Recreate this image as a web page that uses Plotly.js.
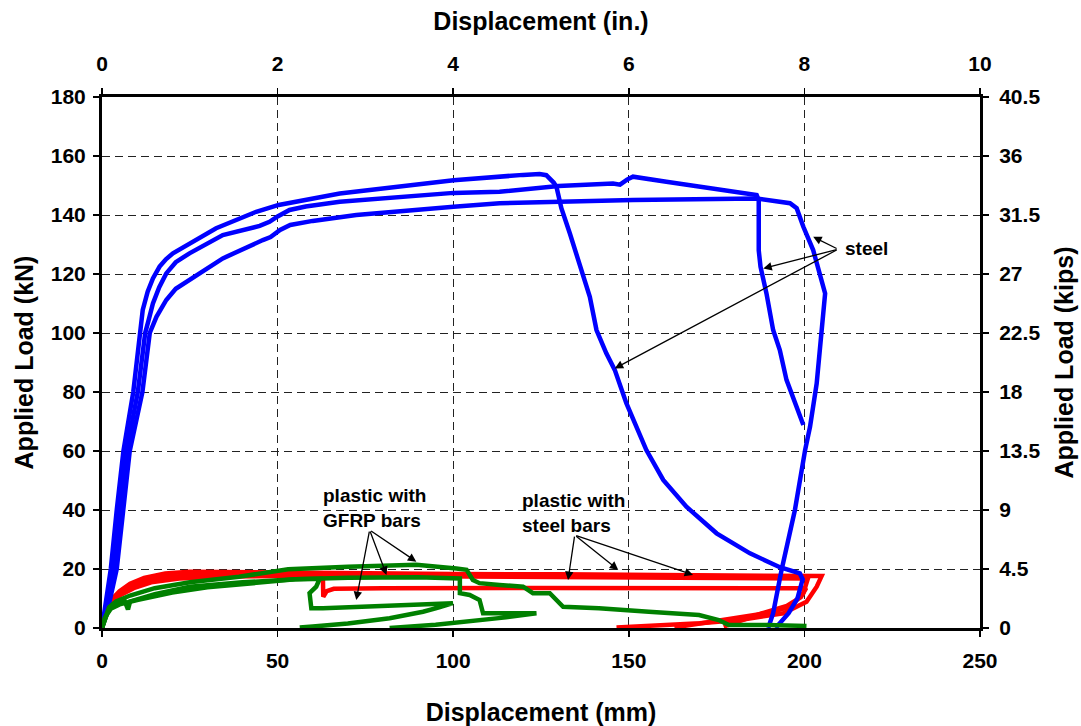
<!DOCTYPE html>
<html>
<head>
<meta charset="utf-8">
<script src="https://cdn.plot.ly/plotly-3.0.1.min.js"></script>
<style>html,body{margin:0;padding:0;background:#fff;}#chart{width:1081px;height:726px;}</style>
</head>
<body>
<div id="chart"></div>
<script>
// ---- Steel (blue) specimens: displacement (mm), load (kN)
const steelA_x = [0,0.8,2.5,4.2,6.1,8.9,10.9,11.6,13,14.5,16.4,18.2,20.2,24.9,32.5,43.9,50.3,67.7,100.1,119.9,124.6,126.5,127.5,128.6,129.4,130.8,133.2,136,138.9,140.8,143.6,146,149.3,155,159.8,166.4,175,184.5,193,198.7,199.5,198,195.5,191.8];
const steelA_y = [0,6,20,40,60,80,100,107.8,114,118.5,122.5,125,127,130.4,135.5,141.1,143.4,147.3,151.8,153.6,153.9,153.5,152.4,151,149.6,142.3,133.8,123.6,112.3,101,93.1,87.5,76.2,60.3,50.2,41.1,32.1,25.3,20.6,18.5,16.5,10,5,0];
const steelB_x = [0,1.2,3.3,5.1,7,10.2,12.3,13.2,14.5,16.3,18.3,21,24.9,34.4,44.9,47.7,50,53.4,58,67.7,100.1,113.2,130,145.5,147.5,149.5,151.2,160.7,170.1,186.4,187,187,187.5,189.2,191.1,193,194.9,197.3,199.7];
const steelB_y = [0,6,20,40,60,80,100,104,110,115.5,120.2,124,127,133.2,136.3,137.7,139.5,141.7,142.9,144.5,147.5,147.9,149.8,150.7,150.3,152,153,151.3,149.6,146.8,145,128,122.5,113.4,101,94.2,84.1,76.2,68.8];
const steelC_x = [0,1.6,4.2,6.1,7.9,11.5,13.6,15.5,18.3,21,24.9,34.4,45.8,48,50.7,53.6,60,72.4,100.1,113.2,151.2,186.4,195.9,197.8,199.7,202.5,205.9,204.9,203.5,201.6,200.2,197.3,193.5,191.1,189.7];
const steelC_y = [0,6,20,40,60,80,100,105.5,111.2,115,118,125.3,131.5,132.5,134.9,136.6,138,140,142.8,144,145.1,145.6,144,142.3,136,128.1,113.4,99.9,82.9,68.2,60.3,40,19.7,5,0];

// ---- Plastic with steel bars (red)
const redA_x = [0,0.5,1.5,3,5,8,12,18,25,40,60,80,100,130,160,190,200,204.9,203.5,200.6,194,181.6,170.2,160,146.5];
const redA_y = [0,3,7,10,12.5,15,17,18.5,19.1,18.9,18.6,18.4,18.3,18.2,18.1,18,17.8,17.6,14,8.9,5,2.7,1.6,0.9,0.2];
const redB_x = [0,0.8,2,4,7,11,16,25,40,60,80,100,130,160,190,201,199.7,196,189.2,181.6,175,168,163];
const redB_y = [0,5,8.5,11,13.5,15.5,17,17.8,17.9,17.8,17.6,17.5,17.4,17.3,17.2,16.8,11.8,7.2,5,3.5,2.2,1,0.2];
const redC_x = [0,1,2.5,5,9,14,22,35,50,62.9,63,64,66,80,120,160,199,200.5,199,195,188,182,177];
const redC_y = [0,5,8,11,13.5,15.5,16.8,17.5,17.6,17.4,10.6,12.5,13.3,13.5,13.6,13.7,13.8,13.5,10.5,7.5,5,2.5,0.5];

// ---- Plastic with GFRP bars (green)
const greenA_x = [0,1,2,4,8,15,25,39,53,70,89.5,100.9,103.8,105.6,107.5,113.2,119.9,122.7,127.5,131.3,141.5,155.7,170,175.6,178.5,189.2,200.6];
const greenA_y = [0,4,7,9,11,13.5,15.5,17.4,19.9,20.8,21.4,20.2,19.7,16.3,15.2,14.6,14,11.8,11.8,7.2,6.7,5.5,4.4,2.7,1,1,0.7];
const greenB_x = [0,1.5,3,6,6.5,7.4,8,15,25,40,55,70,90,101.9,101.9,104.7,107.5,108.5,115.2,123.7,115,105,95,85,81.9];
const greenB_y = [0,5,7.8,9,9,6.3,9,11.5,14,15.5,16.5,17,17.2,16.8,11.8,11.2,9.5,5,5,5,3.6,2.2,1.1,0.3,0];
const greenC_x = [0,0.8,2.5,5,10,20,30,45,55,62,61,59.1,59.6,62.9,81.9,99.9,96,91.4,81.9,70,60,56.3];
const greenC_y = [0,3.5,6.5,8,9.5,12,13.8,15.6,16.5,16.7,14,11.8,6.7,6.7,7.5,8.4,7,5.5,3.3,1.5,0.5,0.2];

// ---- Axis ticks
const mmTicks = [0,50,100,150,200,250];
const inTicks = [0,2,4,6,8,10];
const kNTicks = [0,20,40,60,80,100,120,140,160,180];
const kipTicks = [0,4.5,9,13.5,18,22.5,27,31.5,36,40.5];
const kipLabels = ['0','4.5','9','13.5','18','22.5','27','31.5','36','40.5'];

const FONT = 'Liberation Sans, Arial, Helvetica, sans-serif';
const BLUE = '#0000FF', RED = '#FF0000', GREEN = '#008000';
const LW = 4.5;

function tr(x, y, c) {
  return {x: x, y: y, type: 'scatter', mode: 'lines', line: {color: c, width: LW}, hoverinfo: 'skip', showlegend: false};
}

const data = [
  tr(redA_x, redA_y, RED), tr(redB_x, redB_y, RED), tr(redC_x, redC_y, RED),
  tr(steelA_x, steelA_y, BLUE), tr(steelB_x, steelB_y, BLUE), tr(steelC_x, steelC_y, BLUE),
  tr(greenA_x, greenA_y, GREEN), tr(greenB_x, greenB_y, GREEN), tr(greenC_x, greenC_y, GREEN),
  {x: [], y: [], xaxis: 'x2', yaxis: 'y2', type: 'scatter', mode: 'lines', showlegend: false, hoverinfo: 'skip'}
];

function arrow(tx, ty, ax, ay) {
  return {x: tx, y: ty, xref: 'x', yref: 'y', ax: ax, ay: ay, axref: 'x', ayref: 'y',
    text: '', showarrow: true, arrowhead: 2, arrowsize: 1.3, arrowwidth: 1.3, arrowcolor: '#000', standoff: 0, startstandoff: 0};
}
function label(x, y, t) {
  return {x: x, y: y, xref: 'x', yref: 'y', text: t, showarrow: false, xanchor: 'left', yanchor: 'middle', align: 'left',
    font: {family: FONT, size: 19, color: '#000', weight: 'bold'}};
}

const tickFont = {family: FONT, size: 21, color: '#000', weight: 'bold'};
const titleFont = {family: FONT, size: 25, color: '#000', weight: 'bold'};

const layout = {
  width: 1081, height: 726,
  margin: {l: 102, r: 101, t: 97, b: 98},
  paper_bgcolor: '#fff', plot_bgcolor: '#fff',
  font: {family: FONT, color: '#000'},
  showlegend: false,
  xaxis: {range: [0, 250], tickvals: mmTicks, ticktext: mmTicks.map(String), ticks: 'outside', ticklen: 6, tickwidth: 1.5, tickcolor: '#000',
    showline: true, linewidth: 3, linecolor: '#000', zeroline: false,
    showgrid: true, gridcolor: '#222', gridwidth: 1, griddash: '8px,5px',
    tickfont: tickFont, ticklabelstandoff: 6,
    title: {text: 'Displacement (mm)', font: titleFont, standoff: 34}},
  yaxis: {range: [0, 180], tickvals: kNTicks, ticktext: kNTicks.map(String), ticks: 'outside', ticklen: 6, tickwidth: 1.5, tickcolor: '#000',
    showline: true, linewidth: 3, linecolor: '#000', zeroline: false,
    showgrid: true, gridcolor: '#222', gridwidth: 1, griddash: '8px,5px',
    tickfont: tickFont, ticklabelstandoff: 3,
    title: {text: 'Applied Load (kN)', font: titleFont, standoff: 11}},
  xaxis2: {range: [0, 10], overlaying: 'x', side: 'top', anchor: 'y', tickvals: inTicks, ticktext: inTicks.map(String),
    ticks: 'outside', ticklen: 6, tickwidth: 1.5, tickcolor: '#000', showline: true, linewidth: 3, linecolor: '#000',
    showgrid: false, zeroline: false, tickfont: tickFont, ticklabelstandoff: 9,
    title: {text: 'Displacement (in.)', font: titleFont, standoff: 14}},
  yaxis2: {range: [0, 40.5], overlaying: 'y', side: 'right', anchor: 'x', tickvals: kipTicks, ticktext: kipLabels,
    ticks: 'outside', ticklen: 6, tickwidth: 1.5, tickcolor: '#000', showline: true, linewidth: 3, linecolor: '#000',
    showgrid: false, zeroline: false, tickfont: tickFont, ticklabelstandoff: 6,
    title: {text: 'Applied Load (kips)', font: titleFont, standoff: 17}},
  annotations: [
    label(211, 128.8, 'steel'),
    arrow(202.5, 132.6, 209.6, 128.4),
    arrow(188.3, 121.9, 209.6, 128.4),
    arrow(146, 88, 209.6, 128.4),
    label(62.4, 40.8, 'plastic with<br>GFRP bars'),
    arrow(72.4, 9.5, 76.2, 33.2),
    arrow(81, 18, 76.2, 33.2),
    arrow(89.5, 22.5, 76.2, 33.2),
    label(118.9, 39.1, 'plastic with<br>steel bars'),
    arrow(132.7, 16.3, 134.6, 31.5),
    arrow(147, 19.7, 134.6, 31.5),
    arrow(168.3, 18, 134.6, 31.5)
  ]
};

Plotly.newPlot('chart', data, layout, {displayModeBar: false, staticPlot: true});
</script>
</body>
</html>
